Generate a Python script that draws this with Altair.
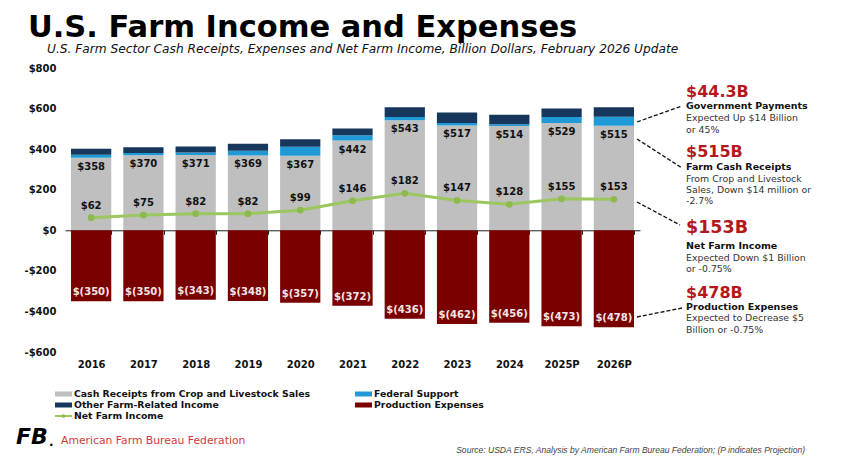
import altair as alt
import pandas as pd

# ---------------- data ----------------
years = ["2016", "2017", "2018", "2019", "2020", "2021", "2022", "2023", "2024", "2025P", "2026P"]
cash_receipts = [358, 370, 371, 369, 367, 442, 543, 517, 514, 529, 515]
federal_support = [14, 11, 13, 23, 45, 26, 16, 12, 9, 30, 44.3]
other_income = [30, 28, 29, 34, 37, 34, 48, 52, 46, 41, 47]
production_expenses = [-350, -350, -343, -348, -357, -372, -436, -462, -456, -473, -478]
net_farm_income = [62, 75, 82, 82, 99, 146, 182, 147, 128, 155, 153]

series_names = ["Cash Receipts from Crop and Livestock Sales", "Federal Support",
                "Other Farm-Related Income", "Production Expenses"]
series_colors = ["#BFBFBF", "#1F9AD6", "#16365C", "#7A0000"]
line_name = "Net Farm Income"
line_color = "#9CC65E"
point_color = "#8CBA4C"
red_text = "#B5171D"

y_ticks = [-600, -400, -200, 0, 200, 400, 600, 800]

# ---------------- layout ----------------
W, H = 575, 284
Y_MIN, Y_MAX = -600, 800
zero_px = H * Y_MAX / (Y_MAX - Y_MIN)
FONT = "DejaVu Sans"

rows = []
for i, yr in enumerate(years):
    for j, vals in enumerate([cash_receipts, federal_support, other_income, production_expenses]):
        rows.append({"year": yr, "series": series_names[j], "value": vals[i], "ord": j})
long_df = pd.DataFrame(rows)

df = pd.DataFrame({"year": years, "cash": cash_receipts, "net": net_farm_income,
                   "exp": production_expenses})
df["cash_lbl"] = ["$%d" % v for v in cash_receipts]
df["net_lbl"] = ["$%d" % v for v in net_farm_income]
df["exp_lbl"] = ["$(%d)" % -v for v in production_expenses]

xscale = alt.Scale(domain=years, paddingInner=0.23, paddingOuter=0.115)
yscale = alt.Scale(domain=[Y_MIN, Y_MAX], nice=False, zero=False)

xaxis = alt.Axis(title=None, orient="bottom", offset=-(H - zero_px), domain=True,
                 domainColor="#222", domainWidth=1, ticks=True, tickBand="extent",
                 tickSize=4, tickColor="#222", labelAngle=0, labelPadding=130,
                 labelBaseline="middle", labelFont=FONT, labelFontSize=10,
                 labelFontWeight="bold", labelColor="#111", grid=False)
yaxis = alt.Axis(title=None, values=y_ticks, domain=False, ticks=False, grid=False,
                 labelExpr="datum.value < 0 ? '-$' + (-datum.value) : '$' + datum.value",
                 labelFont=FONT, labelFontSize=10, labelFontWeight="bold",
                 labelColor="#111", labelPadding=9)


def X():
    return alt.X("year:N", scale=xscale, sort=years, axis=xaxis)


def Y(field):
    return alt.Y(field, scale=yscale, axis=yaxis)


bars = alt.Chart(long_df).mark_bar().encode(
    x=X(),
    y=alt.Y("value:Q", scale=yscale, axis=yaxis, stack="zero"),
    color=alt.Color("series:N", scale=alt.Scale(domain=series_names, range=series_colors), legend=None),
    order=alt.Order("ord:Q", sort="ascending"),
)

cash_text = alt.Chart(df).mark_text(baseline="top", dy=4, font=FONT, fontSize=10,
                                    fontWeight="bold", color="#111").encode(
    x=X(), y=Y("cash:Q"), text="cash_lbl:N")

exp_text = alt.Chart(df).mark_text(baseline="bottom", dy=-4, font=FONT, fontSize=10,
                                   fontWeight="bold", color="#F5E6E6").encode(
    x=X(), y=Y("exp:Q"), text="exp_lbl:N")

line = alt.Chart(df).mark_line(color=line_color, strokeWidth=3).encode(x=X(), y=Y("net:Q"))
pts = alt.Chart(df).mark_point(filled=True, size=45, color=point_color, opacity=1).encode(
    x=X(), y=Y("net:Q"))
net_text = alt.Chart(df).mark_text(baseline="bottom", dy=-7, font=FONT, fontSize=10,
                                   fontWeight="bold", color="#111").encode(
    x=X(), y=Y("net:Q"), text="net_lbl:N")


def txt(s, x, y, size, weight="normal", color="#222", style="normal", font=FONT,
        align="left", baseline="middle"):
    return alt.Chart(pd.DataFrame({"t": [s]})).mark_text(
        font=font, fontSize=size, fontWeight=weight, fontStyle=style, color=color,
        align=align, baseline=baseline).encode(
        text="t:N", x=alt.value(x), y=alt.value(y))


def rule(x1, y1, x2, y2, color="#111", width=1.3, dash=(4, 2)):
    return alt.Chart(pd.DataFrame({"t": [0]})).mark_rule(
        color=color, strokeWidth=width, strokeDash=list(dash)).encode(
        x=alt.value(x1), y=alt.value(y1), x2=alt.value(x2), y2=alt.value(y2))


def swatch(x1, y1, x2, y2, color):
    return alt.Chart(pd.DataFrame({"t": [0]})).mark_rect(color=color).encode(
        x=alt.value(x1), y=alt.value(y1), x2=alt.value(x2), y2=alt.value(y2))


layers = [bars, cash_text, exp_text, line, pts, net_text]

# titles
layers.append(txt("U.S. Farm Income and Expenses", -37, -31.5, 30.5, "bold", "#000", baseline="alphabetic"))
layers.append(txt("U.S. Farm Sector Cash Receipts, Expenses and Net Farm Income, Billion Dollars, February 2026 Update",
                  -18, -15, 12.2, "normal", "#111", "italic", baseline="alphabetic"))

# right annotations
AX = 621
ann = [
    ("$44.3B", 24, 16, "bold", red_text),
    ("Government Payments", 38, 9.5, "bold", "#111"),
    ("Expected Up $14 Billion", 50, 9.4, "normal", "#333"),
    ("or 45%", 62, 9.4, "normal", "#333"),
    ("$515B", 84, 16, "bold", red_text),
    ("Farm Cash Receipts", 99, 9.5, "bold", "#111"),
    ("From Crop and Livestock", 111, 9.4, "normal", "#333"),
    ("Sales, Down $14 million or", 122, 9.4, "normal", "#333"),
    ("-2.7%", 133, 9.4, "normal", "#333"),
    ("$153B", 160, 17.5, "bold", red_text),
    ("Net Farm Income", 178, 9.5, "bold", "#111"),
    ("Expected Down $1 Billion", 190, 9.4, "normal", "#333"),
    ("or -0.75%", 201, 9.4, "normal", "#333"),
    ("$478B", 225, 16, "bold", red_text),
    ("Production Expenses", 239, 9.5, "bold", "#111"),
    ("Expected to Decrease $5", 250, 9.4, "normal", "#333"),
    ("Billion or -0.75%", 262, 9.4, "normal", "#333"),
]
for s, yy, sz, wt, col in ann:
    layers.append(txt(s, AX, yy, sz, wt, col))

layers.append(rule(572, 54, 617, 38))
layers.append(rule(572, 71, 617, 100))
layers.append(rule(572, 134, 615, 157))
layers.append(rule(572, 249, 617, 240))

# legend
leg = [
    (series_names[0], -10, 326, series_colors[0]),
    (series_names[2], -10, 337, series_colors[2]),
    (series_names[1], 290, 326, series_colors[1]),
    (series_names[3], 290, 337, series_colors[3]),
]
for name, lx, ly, col in leg:
    layers.append(swatch(lx, ly - 2.5, lx + 17, ly + 2.5, col))
    layers.append(txt(name, lx + 19, ly, 9.3, "bold", "#111"))
layers.append(rule(-10, 348, 7, 348, color=line_color, width=2, dash=(1, 0)))
layers.append(alt.Chart(pd.DataFrame({"t": [0]})).mark_point(
    filled=True, size=14, color=point_color, opacity=1).encode(x=alt.value(-1.5), y=alt.value(348)))
layers.append(txt(line_name, 9, 348, 9.3, "bold", "#111"))

# footer
layers.append(txt("FB", -49, 369, 22, 900, "#000", "italic"))
layers.append(txt(".", -16, 374, 12, "bold", "#000"))
layers.append(txt("American Farm Bureau Federation", -4, 373, 10.8, "normal", "#D23A3A"))
layers.append(txt("Source: USDA ERS, Analysis by American Farm Bureau Federation; (P indicates Projection)",
                  740, 382, 8.55, "normal", "#444", "italic", font="Liberation Sans", align="right"))

chart = alt.layer(*layers).properties(
    width=W, height=H,
    autosize=alt.AutoSizeParams(type="none"),
    padding={"left": 57, "top": 60, "right": 195, "bottom": 107},
    background="white",
).configure_view(stroke=None)

chart.save("out.html", embed_options={"renderer": "svg", "actions": False})
